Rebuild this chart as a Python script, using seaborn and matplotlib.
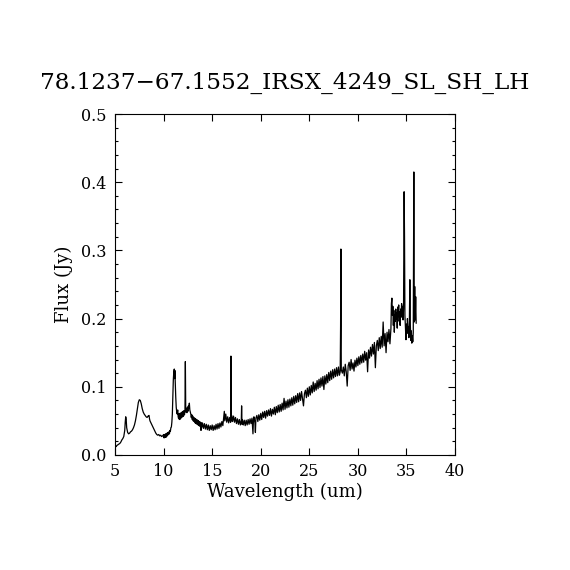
import matplotlib

matplotlib.use("Agg")
import matplotlib.pyplot as plt
import numpy as np
import pandas as pd
import seaborn as sns
from matplotlib.ticker import MultipleLocator, FormatStrFormatter

TITLE = "78.1237\u221267.1552_IRSX_4249_SL_SH_LH"
XLABEL = "Wavelength (um)"
YLABEL = "Flux (Jy)"
X_TICKS = [5, 10, 15, 20, 25, 30, 35, 40]
Y_TICKS = [0.0, 0.1, 0.2, 0.3, 0.4, 0.5]

# SL: 5 - 10 um
WAVE_SL = [5.02, 5.04, 5.08, 5.15, 5.2, 5.3, 5.4, 5.5, 5.6, 5.7, 5.8, 5.9,
           6.0, 6.05, 6.1, 6.15, 6.2, 6.3, 6.4, 6.5, 6.6, 6.7, 6.8, 6.9,
           7.0, 7.1, 7.2, 7.3, 7.4, 7.5, 7.6, 7.7, 7.8, 7.9, 8.0, 8.1,
           8.2, 8.3, 8.4, 8.5, 8.55, 8.6, 8.7, 8.8, 8.9, 9.0, 9.1, 9.2,
           9.3, 9.4, 9.5, 9.6, 9.7, 9.8, 9.9]
FLUX_SL = [0.048, 0.013, 0.012, 0.013, 0.014, 0.015, 0.016, 0.017, 0.019, 0.022, 0.024, 0.027,
           0.036, 0.048, 0.056, 0.052, 0.040, 0.033, 0.031, 0.032, 0.034, 0.035, 0.037, 0.040,
           0.044, 0.050, 0.058, 0.068, 0.077, 0.081, 0.080, 0.075, 0.068, 0.063, 0.060, 0.058,
           0.056, 0.055, 0.057, 0.058, 0.053, 0.050, 0.047, 0.044, 0.041, 0.038, 0.035, 0.032,
           0.030, 0.029, 0.030, 0.028, 0.029, 0.027, 0.028]

# SH blue part: 10 - 14 um
WAVE_SH1 = [10.0, 10.05, 10.1, 10.15, 10.2, 10.25, 10.3, 10.35, 10.4, 10.45, 10.5, 10.55,
            10.6, 10.65, 10.7, 10.75, 10.8, 10.85, 10.9, 10.95, 11.0, 11.05, 11.1, 11.13,
            11.16, 11.2, 11.25, 11.3, 11.35, 11.4, 11.45, 11.5, 11.55, 11.6, 11.65, 11.7,
            11.75, 11.8, 11.85, 11.9, 11.95, 12.0, 12.05, 12.1, 12.15, 12.2, 12.24, 12.28,
            12.35, 12.4, 12.45, 12.5, 12.55, 12.6, 12.65, 12.7, 12.75, 12.8, 12.85, 12.9,
            12.95, 13.0, 13.05, 13.1, 13.15, 13.2, 13.25, 13.3, 13.35, 13.4, 13.45, 13.5,
            13.55, 13.6, 13.65, 13.7, 13.75, 13.8, 13.85, 13.9, 13.95]
FLUX_SH1 = [0.030, 0.025, 0.030, 0.026, 0.031, 0.026, 0.030, 0.032, 0.028, 0.033, 0.030, 0.034,
            0.031, 0.036, 0.035, 0.040, 0.041, 0.048, 0.060, 0.085, 0.110, 0.122, 0.126, 0.112,
            0.124, 0.105, 0.085, 0.070, 0.063, 0.060, 0.066, 0.056, 0.053, 0.061, 0.052, 0.059,
            0.053, 0.062, 0.055, 0.063, 0.056, 0.064, 0.057, 0.065, 0.059, 0.066, 0.137, 0.063,
            0.068, 0.062, 0.070, 0.064, 0.072, 0.069, 0.076, 0.066, 0.063, 0.060, 0.055, 0.059,
            0.052, 0.057, 0.050, 0.055, 0.049, 0.054, 0.047, 0.053, 0.046, 0.052, 0.045, 0.051,
            0.044, 0.050, 0.043, 0.049, 0.042, 0.048, 0.036, 0.047, 0.041]

# SH red part: 14 - 20 um
WAVE_SH2 = [14.0, 14.1, 14.2, 14.3, 14.4, 14.5, 14.6, 14.7, 14.8, 14.9, 15.0, 15.1,
            15.2, 15.3, 15.4, 15.5, 15.6, 15.7, 15.8, 15.9, 16.0, 16.1, 16.2, 16.25,
            16.3, 16.4, 16.5, 16.6, 16.7, 16.8, 16.9, 16.93, 16.97, 17.0, 17.1, 17.2,
            17.3, 17.4, 17.5, 17.6, 17.7, 17.8, 17.9, 18.0, 18.03, 18.07, 18.1, 18.2,
            18.3, 18.4, 18.5, 18.6, 18.7, 18.8, 18.9, 19.0, 19.1, 19.2, 19.25, 19.3,
            19.4, 19.45, 19.5, 19.6, 19.7, 19.8, 19.9]
FLUX_SH2 = [0.047, 0.039, 0.046, 0.038, 0.045, 0.037, 0.044, 0.036, 0.043, 0.037, 0.044, 0.036,
            0.043, 0.037, 0.045, 0.038, 0.046, 0.039, 0.047, 0.041, 0.049, 0.043, 0.057, 0.064,
            0.050, 0.060, 0.048, 0.056, 0.047, 0.055, 0.048, 0.145, 0.050, 0.058, 0.049, 0.057,
            0.048, 0.055, 0.046, 0.053, 0.045, 0.052, 0.044, 0.051, 0.072, 0.045, 0.052, 0.044,
            0.051, 0.043, 0.051, 0.044, 0.052, 0.045, 0.053, 0.046, 0.054, 0.031, 0.052, 0.056,
            0.047, 0.033, 0.054, 0.058, 0.049, 0.059, 0.051]

# LH blue part: 20 - 28.4 um
WAVE_LH1 = [20.0, 20.1, 20.2, 20.3, 20.4, 20.5, 20.6, 20.7, 20.8, 20.9, 21.0, 21.1,
            21.2, 21.3, 21.4, 21.5, 21.6, 21.7, 21.8, 21.9, 22.0, 22.1, 22.2, 22.3,
            22.4, 22.5, 22.6, 22.7, 22.8, 22.9, 23.0, 23.1, 23.2, 23.3, 23.4, 23.5,
            23.6, 23.7, 23.8, 23.9, 24.0, 24.1, 24.2, 24.3, 24.4, 24.5, 24.6, 24.7,
            24.8, 24.9, 25.0, 25.1, 25.2, 25.3, 25.4, 25.5, 25.6, 25.7, 25.8, 25.9,
            26.0, 26.1, 26.2, 26.3, 26.4, 26.5, 26.6, 26.7, 26.8, 26.9, 27.0, 27.1,
            27.2, 27.3, 27.4, 27.5, 27.6, 27.7, 27.8, 27.9, 28.0, 28.1, 28.18, 28.22,
            28.25, 28.29, 28.4]
FLUX_LH1 = [0.061, 0.052, 0.063, 0.055, 0.064, 0.054, 0.065, 0.057, 0.066, 0.058, 0.068, 0.057,
            0.067, 0.060, 0.070, 0.059, 0.071, 0.062, 0.073, 0.063, 0.074, 0.064, 0.076, 0.066,
            0.083, 0.067, 0.079, 0.069, 0.081, 0.070, 0.082, 0.072, 0.084, 0.073, 0.086, 0.075,
            0.087, 0.077, 0.090, 0.078, 0.091, 0.080, 0.093, 0.082, 0.072, 0.090, 0.095, 0.084,
            0.098, 0.086, 0.100, 0.088, 0.102, 0.091, 0.107, 0.093, 0.105, 0.095, 0.109, 0.097,
            0.111, 0.099, 0.113, 0.101, 0.115, 0.096, 0.116, 0.104, 0.118, 0.106, 0.121, 0.109,
            0.123, 0.111, 0.125, 0.113, 0.126, 0.115, 0.128, 0.116, 0.129, 0.117, 0.122, 0.190,
            0.302, 0.125, 0.120]

# LH middle: 28.5 - 33.3 um
WAVE_LH2 = [28.5, 28.6, 28.7, 28.8, 28.9, 29.0, 29.1, 29.2, 29.3, 29.4, 29.5, 29.6,
            29.7, 29.8, 29.9, 30.0, 30.1, 30.2, 30.3, 30.4, 30.5, 30.6, 30.7, 30.8,
            30.9, 31.0, 31.1, 31.2, 31.3, 31.4, 31.5, 31.6, 31.7, 31.8, 31.9, 32.0,
            32.1, 32.2, 32.3, 32.4, 32.5, 32.6, 32.7, 32.8, 32.9, 33.0, 33.1, 33.2,
            33.3]
FLUX_LH2 = [0.129, 0.116, 0.133, 0.122, 0.101, 0.131, 0.136, 0.124, 0.140, 0.126, 0.135, 0.123,
            0.139, 0.129, 0.142, 0.131, 0.144, 0.133, 0.146, 0.135, 0.148, 0.136, 0.152, 0.139,
            0.150, 0.122, 0.154, 0.142, 0.158, 0.145, 0.162, 0.148, 0.165, 0.128, 0.160, 0.168,
            0.153, 0.172, 0.156, 0.174, 0.158, 0.195, 0.160, 0.178, 0.150, 0.180, 0.166, 0.184,
            0.163]

# LH red end: 33.4 - 36 um
WAVE_LH3 = [33.4, 33.45, 33.5, 33.55, 33.6, 33.65, 33.7, 33.75, 33.8, 33.85, 33.9, 33.95,
            34.0, 34.05, 34.1, 34.15, 34.2, 34.25, 34.3, 34.35, 34.4, 34.45, 34.5, 34.55,
            34.6, 34.65, 34.7, 34.76, 34.8, 34.84, 34.9, 34.95, 35.0, 35.05, 35.1, 35.15,
            35.2, 35.25, 35.3, 35.35, 35.4, 35.45, 35.5, 35.55, 35.6, 35.65, 35.7, 35.76,
            35.8, 35.85, 35.9, 35.95, 36.0]
FLUX_LH3 = [0.185, 0.222, 0.230, 0.205, 0.218, 0.190, 0.212, 0.180, 0.205, 0.196, 0.214, 0.199,
            0.208, 0.186, 0.217, 0.203, 0.220, 0.196, 0.210, 0.190, 0.214, 0.202, 0.222, 0.205,
            0.218, 0.198, 0.215, 0.386, 0.321, 0.205, 0.185, 0.169, 0.192, 0.178, 0.200, 0.186,
            0.188, 0.172, 0.195, 0.257, 0.190, 0.168, 0.182, 0.164, 0.175, 0.166, 0.180, 0.415,
            0.195, 0.247, 0.198, 0.232, 0.193]

WAVE = WAVE_SL + WAVE_SH1 + WAVE_SH2 + WAVE_LH1 + WAVE_LH2 + WAVE_LH3
FLUX = FLUX_SL + FLUX_SH1 + FLUX_SH2 + FLUX_LH1 + FLUX_LH2 + FLUX_LH3


def main():
    sns.set_style("ticks")
    plt.rcParams["font.family"] = ["DejaVu Serif"]
    plt.rcParams["axes.linewidth"] = 0.8
    plt.rcParams["text.color"] = "black"
    plt.rcParams["axes.labelcolor"] = "black"

    spectrum = pd.DataFrame({"wave": WAVE, "flux": FLUX})

    figure = plt.figure(figsize=(5.7, 5.7), dpi=100)
    axis = figure.add_axes([0.2018, 0.2018, 0.5965, 0.5982])
    sns.lineplot(
        data=spectrum,
        x="wave",
        y="flux",
        estimator=None,
        sort=False,
        color="black",
        linewidth=0.9,
        ax=axis,
    )

    axis.set_xlim(5, 40)
    axis.set_ylim(0, 0.5)
    axis.set_xticks(X_TICKS)
    axis.set_yticks(Y_TICKS)
    axis.yaxis.set_minor_locator(MultipleLocator(0.02))
    axis.yaxis.set_major_formatter(FormatStrFormatter("%.1f"))
    axis.tick_params(which="both", direction="in", top=True, right=True,
                     colors="black", labelsize=11.5, width=0.8)
    axis.tick_params(which="major", length=5, pad=6)
    axis.tick_params(which="minor", length=2.5)
    for spine in axis.spines.values():
        spine.set_visible(True)
        spine.set_color("black")

    axis.set_xlabel(XLABEL, fontsize=13, labelpad=2, color="black")
    axis.set_ylabel(YLABEL, fontsize=13, labelpad=6, color="black")
    figure.text(0.5, 0.855, TITLE, ha="center", va="center", fontsize=16.7,
                color="black")

    figure.savefig("out.png", dpi=100, facecolor="white")


if __name__ == "__main__":
    main()
